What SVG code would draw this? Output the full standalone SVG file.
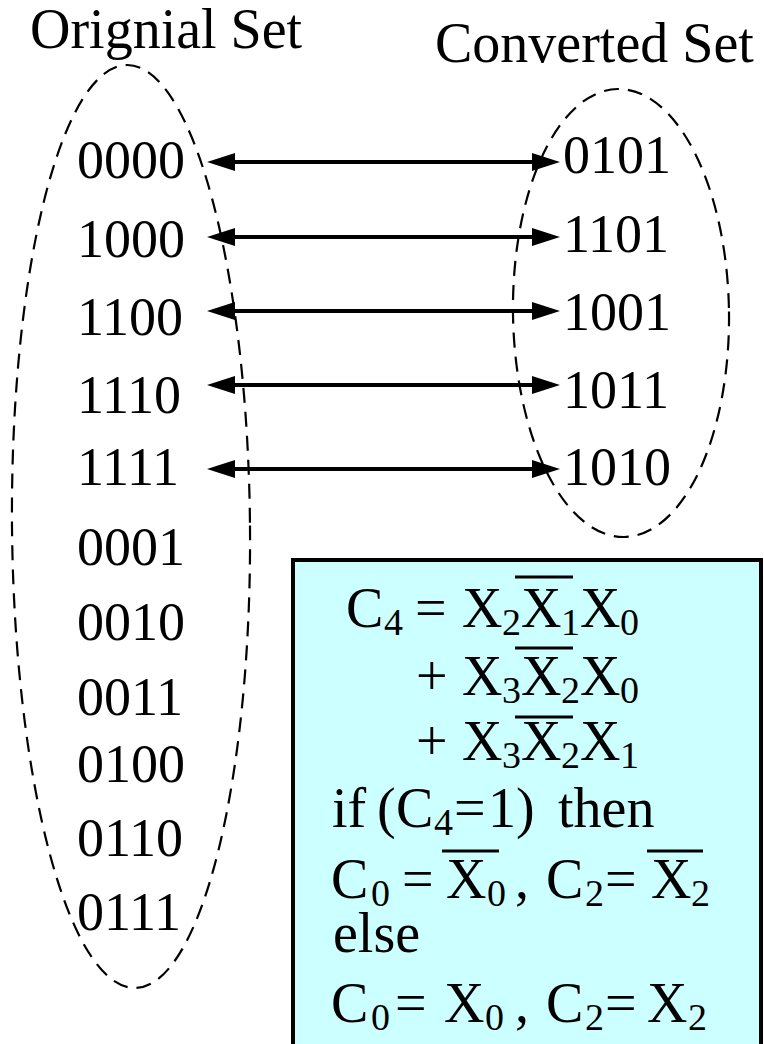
<svg xmlns="http://www.w3.org/2000/svg" width="764" height="1044" viewBox="0 0 764 1044">
<style>
text{font-family:"Liberation Serif","Times New Roman",serif;fill:#000}
.title{font-size:56px}
.num{font-size:54px}
.eq{font-size:56px}
.sub{font-size:38px}
.set{fill:none;stroke:#000;stroke-width:2.2;stroke-dasharray:15 9}
.arrow{fill:none;stroke:#000;stroke-width:4}
.bar{stroke:#000;stroke-width:3}
</style>
<defs>
<marker id="head" markerUnits="userSpaceOnUse" viewBox="0 0 28 18" markerWidth="28" markerHeight="18" refX="20" refY="9" orient="auto-start-reverse">
<path d="M0,0 L28,9 L0,18 z" fill="#000"/>
</marker>
</defs>
<g id="original-set">
<ellipse class="set" cx="131" cy="526.5" rx="119" ry="461.5" transform="rotate(-0.5 131 526.5)"/>
<text class="title" x="30" y="48">Orignial Set</text>
<text class="num" x="77" y="178">0000</text>
<text class="num" x="77" y="257">1000</text>
<text class="num" x="77" y="335">1100</text>
<text class="num" x="77" y="413">1110</text>
<text class="num" x="77" y="485">1111</text>
<text class="num" x="77" y="565">0001</text>
<text class="num" x="77" y="640">0010</text>
<text class="num" x="77" y="715">0011</text>
<text class="num" x="77" y="782">0100</text>
<text class="num" x="77" y="856">0110</text>
<text class="num" x="77" y="930">0111</text>
</g>
<g id="converted-set">
<ellipse class="set" cx="621" cy="313" rx="108" ry="224" transform="rotate(-0.8 621 313)"/>
<text class="title" x="435" y="62">Converted Set</text>
<text class="num" x="563" y="173">0101</text>
<text class="num" x="563" y="252">1101</text>
<text class="num" x="563" y="330">1001</text>
<text class="num" x="563" y="408">1011</text>
<text class="num" x="563" y="485">1010</text>
</g>
<g id="connectors">
<path class="arrow" d="M215,162 H552" marker-start="url(#head)" marker-end="url(#head)"/>
<path class="arrow" d="M215,237 H552" marker-start="url(#head)" marker-end="url(#head)"/>
<path class="arrow" d="M215,311 H552" marker-start="url(#head)" marker-end="url(#head)"/>
<path class="arrow" d="M215,385 H552" marker-start="url(#head)" marker-end="url(#head)"/>
<path class="arrow" d="M215,469 H552" marker-start="url(#head)" marker-end="url(#head)"/>
</g>
<g id="logic-box">
<rect x="293" y="560" width="468" height="500" fill="#CCFFFF" stroke="#000" stroke-width="4"/>
<text class="eq" y="627"><tspan x="346">C</tspan><tspan class="sub" x="384" dy="8">4</tspan><tspan x="415" dy="-8">=</tspan><tspan x="462">X</tspan><tspan class="sub" x="502" dy="8">2</tspan><tspan x="521" dy="-8">X</tspan><tspan class="sub" x="561" dy="8">1</tspan><tspan x="580" dy="-8">X</tspan><tspan class="sub" x="620" dy="8">0</tspan></text>
<line class="bar" x1="515" y1="577" x2="573" y2="577"/>
<text class="eq" y="695"><tspan x="416">+</tspan><tspan x="462">X</tspan><tspan class="sub" x="502" dy="8">3</tspan><tspan x="521" dy="-8">X</tspan><tspan class="sub" x="561" dy="8">2</tspan><tspan x="580" dy="-8">X</tspan><tspan class="sub" x="620" dy="8">0</tspan></text>
<line class="bar" x1="515" y1="648" x2="573" y2="648"/>
<text class="eq" y="760"><tspan x="416">+</tspan><tspan x="462">X</tspan><tspan class="sub" x="502" dy="8">3</tspan><tspan x="521" dy="-8">X</tspan><tspan class="sub" x="561" dy="8">2</tspan><tspan x="580" dy="-8">X</tspan><tspan class="sub" x="620" dy="8">1</tspan></text>
<line class="bar" x1="515" y1="717" x2="573" y2="717"/>
<text class="eq" y="827"><tspan x="332">if</tspan><tspan x="377">(</tspan><tspan x="396">C</tspan><tspan class="sub" x="434" dy="8">4</tspan><tspan x="454" dy="-8">=</tspan><tspan x="488">1</tspan><tspan x="516">)</tspan><tspan x="558">then</tspan></text>
<text class="eq" y="898"><tspan x="331">C</tspan><tspan class="sub" x="371" dy="8">0</tspan><tspan x="402" dy="-8">=</tspan><tspan x="446">X</tspan><tspan class="sub" x="487" dy="8">0</tspan><tspan x="515" dy="-8">,</tspan><tspan x="546">C</tspan><tspan class="sub" x="585" dy="8">2</tspan><tspan x="605" dy="-8">=</tspan><tspan x="651">X</tspan><tspan class="sub" x="691" dy="8">2</tspan></text>
<line class="bar" x1="442" y1="851" x2="499" y2="851"/>
<line class="bar" x1="647" y1="851" x2="703" y2="851"/>
<text class="eq" x="333" y="952">else</text>
<text class="eq" y="1022"><tspan x="331">C</tspan><tspan class="sub" x="371" dy="8">0</tspan><tspan x="395" dy="-8">=</tspan><tspan x="444">X</tspan><tspan class="sub" x="485" dy="8">0</tspan><tspan x="515" dy="-8">,</tspan><tspan x="546">C</tspan><tspan class="sub" x="585" dy="8">2</tspan><tspan x="605" dy="-8">=</tspan><tspan x="647">X</tspan><tspan class="sub" x="688" dy="8">2</tspan></text>
</g>
</svg>
